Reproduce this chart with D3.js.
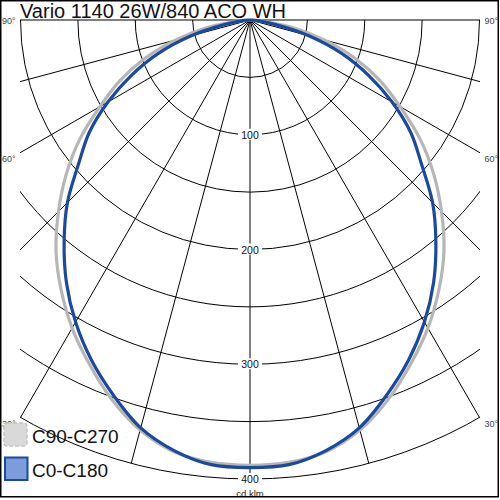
<!DOCTYPE html>
<html>
<head>
<meta charset="utf-8">
<script src="https://cdn.jsdelivr.net/npm/d3@7"></script>
<style>
  html, body { margin: 0; padding: 0; background: #fff; }
  svg { display: block; font-family: "Liberation Sans", Arial, sans-serif; }
</style>
</head>
<body>
<svg width="500" height="500"></svg>
<script>
// gamma angles (deg from nadir) and intensities in cd/klm
var angles = [0, 5, 10, 15, 20, 25, 30, 35, 40, 45, 50, 55, 60, 65, 70, 75, 80, 85, 90];
var c0c180 = [390, 389, 381, 368, 348, 327, 304, 279, 252, 225, 195, 171, 143, 114, 85, 53, 22, 8, 0];
var c90c270 = [388, 387, 382, 370, 352, 331, 310, 287, 263, 236, 209, 181, 151, 125, 97, 67, 37, 10, 0];

var rings = [50, 100, 150, 200, 250, 300, 350, 400];
var ringLabels = [100, 200, 300, 400];
var spokes = [-90, -75, -60, -45, -30, -15, 0, 15, 30, 45, 60, 75, 90];
var angleLabels = [90, 60, 30];
var title = "Vario 1140 26W/840 ACO WH";
var legendNames = ["C90-C270", "C0-C180"];

var svg = d3.select("svg");
var cx = 250, cy = 20;
var left = 20, right = 480;

var r = d3.scaleLinear().domain([0, 400]).range([0, 459]);
var rad = function(deg) { return deg * Math.PI / 180; };

svg.append("defs").append("clipPath").attr("id", "plot")
  .append("rect")
  .attr("x", left).attr("y", cy - 1)
  .attr("width", right - left).attr("height", r(400) + 2);

var g = svg.append("g").attr("transform", "translate(" + cx + "," + cy + ")");
var grid = g.append("g").attr("clip-path", "url(#plot)")
  .attr("transform", "translate(" + (-cx) + "," + (-cy) + ")")
  .append("g").attr("transform", "translate(" + cx + "," + cy + ")");

// rings
grid.selectAll("path.ring")
  .data(rings)
  .enter()
  .append("path")
  .attr("class", "ring")
  .attr("d", function(d) {
    var p = d3.path();
    p.moveTo(r(d), 0);
    p.arc(0, 0, r(d), 0, Math.PI);
    return p.toString();
  })
  .attr("fill", "none")
  .attr("stroke", "#000")
  .attr("stroke-width", 1);

// spokes
grid.selectAll("line.spoke")
  .data(spokes)
  .enter()
  .append("line")
  .attr("class", "spoke")
  .attr("x1", 0).attr("y1", 0)
  .attr("x2", function(d) { return r(400) * Math.sin(rad(d)); })
  .attr("y2", function(d) { return r(400) * Math.cos(rad(d)); })
  .attr("stroke", "#000")
  .attr("stroke-width", 1);

// curves (mirror each half-plane)
function fullCurve(vals) {
  var pts = [];
  for (var i = angles.length - 1; i > 0; i--) pts.push([-angles[i], vals[i]]);
  for (var j = 0; j < angles.length; j++) pts.push([angles[j], vals[j]]);
  return pts;
}

var radial = d3.lineRadial()
  .angle(function(d) { return Math.PI - rad(d[0]); })
  .radius(function(d) { return r(d[1]); })
  .curve(d3.curveCatmullRom);

g.append("path")
  .datum(fullCurve(c90c270))
  .attr("d", radial)
  .attr("fill", "none")
  .attr("stroke", "#b6b6b6")
  .attr("stroke-width", 3.2);

g.append("path")
  .datum(fullCurve(c0c180))
  .attr("d", radial)
  .attr("fill", "none")
  .attr("stroke", "#1a4aa0")
  .attr("stroke-width", 3.2);

// ring labels on the vertical axis
var lab = g.selectAll("g.rlab")
  .data(ringLabels)
  .enter()
  .append("g")
  .attr("class", "rlab")
  .attr("transform", function(d) { return "translate(0," + r(d) + ")"; });
lab.append("rect")
  .attr("x", -12).attr("y", -6).attr("width", 24).attr("height", 11)
  .attr("fill", "#fff");
lab.append("text")
  .attr("text-anchor", "middle")
  .attr("y", 4)
  .attr("font-size", "10.5px")
  .attr("fill", "#111")
  .text(function(d) { return d; });

svg.append("text")
  .attr("x", cx).attr("y", 497)
  .attr("text-anchor", "middle")
  .attr("font-size", "9.5px")
  .attr("fill", "#222")
  .text("cd.klm");

// angle labels at both sides
function labelY(d) {
  if (d === 90) return cy + 4;
  return cy + (cx - left) / Math.tan(rad(d)) + 9;
}
svg.selectAll("text.aleft")
  .data(angleLabels)
  .enter()
  .append("text")
  .attr("class", "aleft")
  .attr("x", 2).attr("y", labelY)
  .attr("font-size", "9px").attr("fill", "#444")
  .text(function(d) { return d + "°"; });
svg.selectAll("text.aright")
  .data(angleLabels)
  .enter()
  .append("text")
  .attr("class", "aright")
  .attr("x", 498).attr("y", labelY)
  .attr("text-anchor", "end")
  .attr("font-size", "9px").attr("fill", "#444")
  .text(function(d) { return d + "°"; });

// title
svg.append("text")
  .attr("x", 20).attr("y", 17.5)
  .attr("font-size", "20px")
  .attr("fill", "#111")
  .text(title);

// legend
svg.append("rect")
  .attr("x", 4).attr("y", 423).attr("width", 23).attr("height", 23).attr("rx", 3)
  .attr("fill", "#d9d9d9").attr("stroke", "#c4c4c4").attr("stroke-width", 1.5)
  .attr("stroke-dasharray", "4,2");
svg.append("rect")
  .attr("x", 5).attr("y", 457.5).attr("width", 22.5).attr("height", 22.5)
  .attr("fill", "#7d9cd9").attr("stroke", "#1a4aa0").attr("stroke-width", 2);

svg.selectAll("text.leg")
  .data(legendNames)
  .enter()
  .append("text")
  .attr("class", "leg")
  .attr("x", 32)
  .attr("y", function(d, i) { return 443 + i * 34; })
  .attr("font-size", "19px")
  .attr("fill", "#111")
  .text(function(d) { return d; });

// frame
svg.append("rect")
  .attr("x", 0.75).attr("y", 0.75).attr("width", 497.5).attr("height", 496)
  .attr("fill", "none").attr("stroke", "#000").attr("stroke-width", 1.5);
</script>
</body>
</html>
